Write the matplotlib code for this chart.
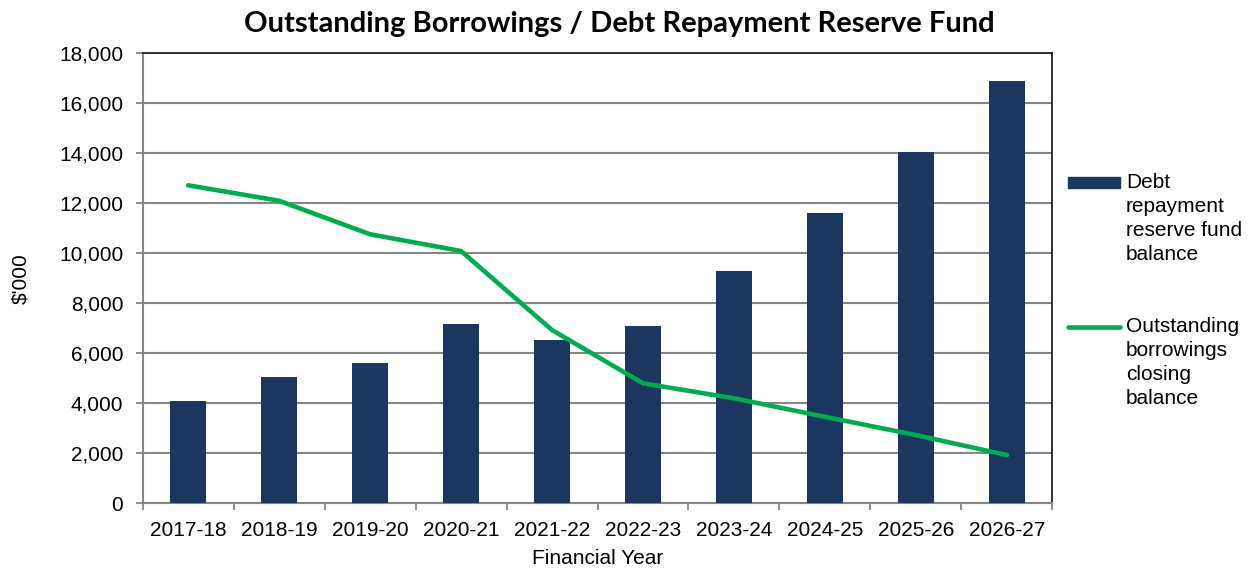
import matplotlib
matplotlib.use('Agg')
import matplotlib.pyplot as plt
import matplotlib.patches as mpatches
from matplotlib.lines import Line2D
import numpy as np

years = ["2017-18", "2018-19", "2019-20", "2020-21", "2021-22",
         "2022-23", "2023-24", "2024-25", "2025-26", "2026-27"]
reserve_fund = [4090, 5040, 5620, 7170, 6530, 7090, 9300, 11610, 14050, 16880]
borrowings = [12720, 12100, 10760, 10090, 6930, 4800, 4200, 3460, 2730, 1930]

BAR_COL = "#1b375f"
LINE_COL = "#00ac4e"
GRID_COL = "#868686"
FONT = "Liberation Sans"

fig = plt.figure(figsize=(12.54, 5.68), dpi=100)
ax = fig.add_axes([0.1138, 0.1139, 0.7254, 0.7923])

x = np.arange(len(years))
ax.bar(x, reserve_fund, width=0.39, color=BAR_COL, zorder=3)
ax.plot(x, borrowings, color=LINE_COL, lw=3.3, solid_capstyle="round",
        solid_joinstyle="miter", zorder=4)

ax.set_xlim(-0.5, len(years) - 0.5)
ax.set_ylim(0, 18000)
ax.set_yticks(np.arange(0, 18001, 2000))
ax.set_yticklabels([f"{v:,}" for v in range(0, 18001, 2000)],
                   fontsize=15, family=FONT)
ax.set_xticks(x)
ax.set_xticklabels(years, fontsize=15, family=FONT)
ax.set_xticks(np.arange(-0.5, len(years)), minor=True)
ax.tick_params(axis="x", which="major", length=0, pad=13)
ax.tick_params(axis="x", which="minor", length=5, color=GRID_COL, width=1.3)
ax.tick_params(axis="y", length=5, color=GRID_COL, width=1.3, pad=9)

ax.grid(axis="y", color=GRID_COL, lw=1.5, zorder=0)
ax.set_axisbelow(True)
for side in ("left", "bottom"):
    ax.spines[side].set_color(GRID_COL)
    ax.spines[side].set_linewidth(1.5)
for side in ("top", "right"):
    ax.spines[side].set_color("#222222")
    ax.spines[side].set_linewidth(1.3)

ax.set_xlabel("Financial Year", fontsize=15, family=FONT, labelpad=6)
ax.set_ylabel("$'000", fontsize=15, family=FONT, labelpad=21)

fig.text(0.494, 0.958, "Outstanding Borrowings / Debt Repayment Reserve Fund",
         ha="center", va="center", fontsize=21, fontweight="bold", family="Lato")

# legend drawn by hand so the keys line up with the first line of each label
W, H = 1254, 568
fig.add_artist(mpatches.Rectangle((1068 / W, 1 - 188 / H), 52 / W, 11 / H,
                                  transform=fig.transFigure, color=BAR_COL))
fig.text(1126 / W, 1 - 173 / H, "Debt\nrepayment\nreserve fund\nbalance",
         ha="left", va="top", fontsize=15, family=FONT, linespacing=1.33)
fig.add_artist(Line2D([1068 / W, 1120 / W], [1 - 327 / H, 1 - 327 / H],
                      transform=fig.transFigure, color=LINE_COL, lw=3.3,
                      solid_capstyle="round"))
fig.text(1126 / W, 1 - 317 / H, "Outstanding\nborrowings\nclosing\nbalance",
         ha="left", va="top", fontsize=15, family=FONT, linespacing=1.33)

fig.savefig("out.png", dpi=100)
